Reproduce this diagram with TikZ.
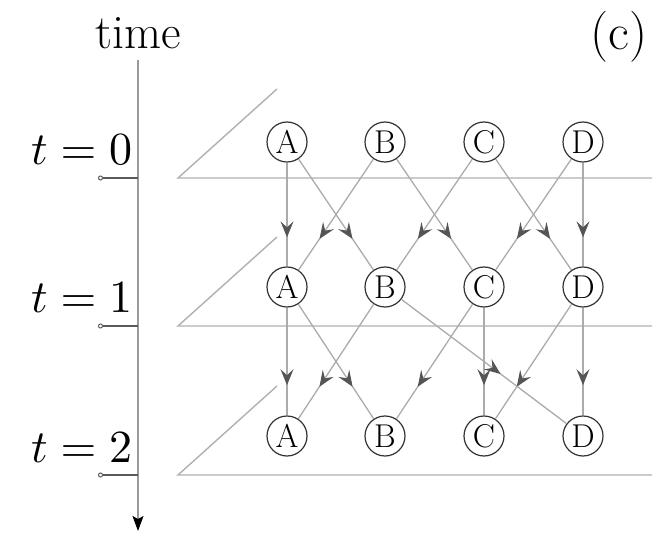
\documentclass[tikz,border=0pt]{standalone}
\usetikzlibrary{arrows.meta,decorations.markings}
\definecolor{edgegray}{HTML}{ABABAB}
\definecolor{tipgray}{HTML}{555555}
\definecolor{planegray}{HTML}{B0B0B0}
\definecolor{axisgray}{HTML}{9A9A9A}

\begin{document}
\begin{tikzpicture}[x=1pt,y=-1pt,
  state/.style={circle,draw=black!80,line width=1.2pt,fill=white,minimum size=40pt,inner sep=0pt,font=\fontsize{33}{36}\selectfont},
  flow/.style={draw=edgegray,line width=1.3pt,postaction={decorate},
    decoration={markings,mark=at position #1 with {\arrow[tipgray]{Stealth[length=16pt,width=13pt,inset=6pt]}}}},
  flow/.default=0.72,
  plane/.style={draw=planegray,line width=1.4pt},
  tickline/.style={draw=black!65,line width=1.2pt},
  big/.style={font=\fontsize{48}{54}\selectfont}]
\useasboundingbox (0,0) rectangle (656,537);

% time axis
\coordinate (axtop) at (138,60);
\coordinate (axbot) at (138,531);
\draw[axisgray,line width=1.2pt,-{Stealth[black,length=15pt,width=11pt,inset=3pt]}] (axtop) -- (axbot);
\node[big] (timelbl) at (138,33) {time};
\node[big,font=\fontsize{51}{56}\selectfont] (panel) at (619,37) {(c)};

% ticks, labels and planes
\foreach \r/\y in {0/178,1/326,2/475}{
  \coordinate (tk\r) at (98,\y);
  \coordinate (ax\r) at (138,\y);
  \draw[tickline,{Circle[open,length=5pt,line width=1pt]}-] (tk\r) -- (ax\r);
  \node[anchor=base east,scale=4.6,inner sep=0pt] (lbl\r) at (133,\y-13) {$t=\r$};
  \draw[plane] (277,\y-89) -- (178,\y) -- (652,\y);
}

% states
\foreach \n/\x in {A/287,B/385,C/484,D/583}
  \foreach \r/\y in {0/142,1/287,2/436}
    \node[state] (\n\r) at (\x,\y) {\n};

% transitions
\foreach \s/\e in {A/A,A/B,B/A,B/C,C/B,C/D,D/C,D/D}
  \draw[flow] (\s0) -- (\e1);
\foreach \s/\e in {A/A,A/B,B/A,C/B,C/C,D/C,D/D}
  \draw[flow] (\s1) -- (\e2);
\draw[flow=0.6] (B1) -- (D2);
\end{tikzpicture}
\end{document}
